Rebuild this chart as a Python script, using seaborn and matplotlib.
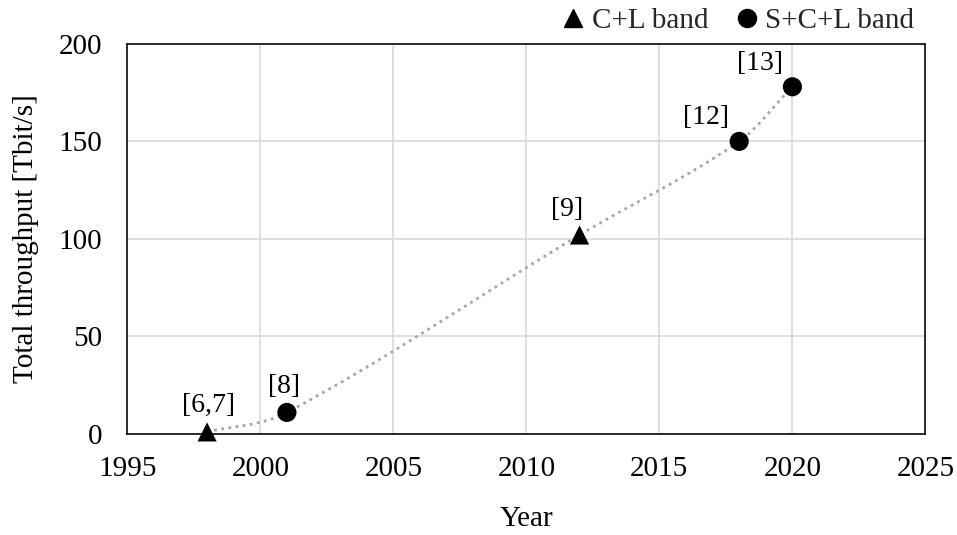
import matplotlib
matplotlib.use("Agg")
import matplotlib.pyplot as plt
import seaborn as sns
import numpy as np
from matplotlib.path import Path
from matplotlib.patches import PathPatch
from matplotlib.lines import Line2D

# data
years = [1998, 2001, 2012, 2018, 2020]
throughput = [1, 11, 102, 150, 178]
bands = ["C+L band", "S+C+L band", "C+L band", "S+C+L band", "S+C+L band"]
refs = ["[6,7]", "[8]", "[9]", "[12]", "[13]"]

# label offsets in points (style only)
label_offsets = [(1, 19), (-2, 19), (-9, 18), (-24, 17), (-23, 17)]

sns.set_theme(style="whitegrid")
plt.rcParams["font.family"] = ["Liberation Serif", "DejaVu Serif"]

FS = 21

fig = plt.figure(figsize=(9.57, 5.35), dpi=100)
ax = fig.add_axes([0.133, 0.189, 0.834, 0.729])


def smooth_path(xs, ys):
    """Smooth bezier through the points, tangents from finite differences in x."""
    pts = np.column_stack([xs, ys]).astype(float)
    n = len(pts)
    tang = []
    for i in range(n):
        a = pts[max(i - 1, 0)]
        b = pts[min(i + 1, n - 1)]
        tang.append((b - a) / (b[0] - a[0]))
    verts = [pts[0]]
    codes = [Path.MOVETO]
    for i in range(n - 1):
        h = pts[i + 1][0] - pts[i][0]
        verts += [pts[i] + tang[i] * h / 3, pts[i + 1] - tang[i + 1] * h / 3, pts[i + 1]]
        codes += [Path.CURVE4] * 3
    return Path(verts, codes)


ax.add_patch(PathPatch(smooth_path(years, throughput), fill=False,
                       edgecolor="#a6a6a6", lw=2.0, linestyle=(0, (1, 1.6)),
                       zorder=2))

sns.scatterplot(x=years, y=throughput, style=bands,
                markers={"C+L band": "^", "S+C+L band": "o"},
                color="black", s=190, edgecolor="black", linewidth=0,
                legend=False, ax=ax, zorder=3, clip_on=False)

for x, y, r, off in zip(years, throughput, refs, label_offsets):
    ax.annotate(r, (x, y), xytext=off, textcoords="offset points",
                ha="center", va="center", fontsize=FS - 1, color="black")

ax.set_xlim(1995, 2025)
ax.set_ylim(0, 200)
ax.set_xticks(range(1995, 2026, 5))
ax.set_yticks(range(0, 201, 50))
ax.grid(True, color="#d9d9d9", lw=1.2)
for s in ax.spines.values():
    s.set_color("#1a1a1a")
    s.set_linewidth(1.3)
ax.tick_params(axis="x", labelsize=FS, colors="black", length=0, pad=16)
ax.tick_params(axis="y", labelsize=FS, colors="black", length=0, pad=18)
ax.set_xlabel("Year", fontsize=FS, color="black", labelpad=17)
ax.set_ylabel("Total throughput [Tbit/s]", fontsize=FS, color="black", labelpad=14)

handles = [Line2D([], [], marker="^", color="black", ls="none", markersize=13),
           Line2D([], [], marker="o", color="black", ls="none", markersize=13)]
fig.legend(handles, ["C+L band", "S+C+L band"], loc="upper right",
           bbox_to_anchor=(0.983, 1.035), ncol=2, frameon=False, fontsize=FS,
           handletextpad=0.15, columnspacing=0.8, handlelength=1.0)

fig.savefig("out.png", dpi=100)
